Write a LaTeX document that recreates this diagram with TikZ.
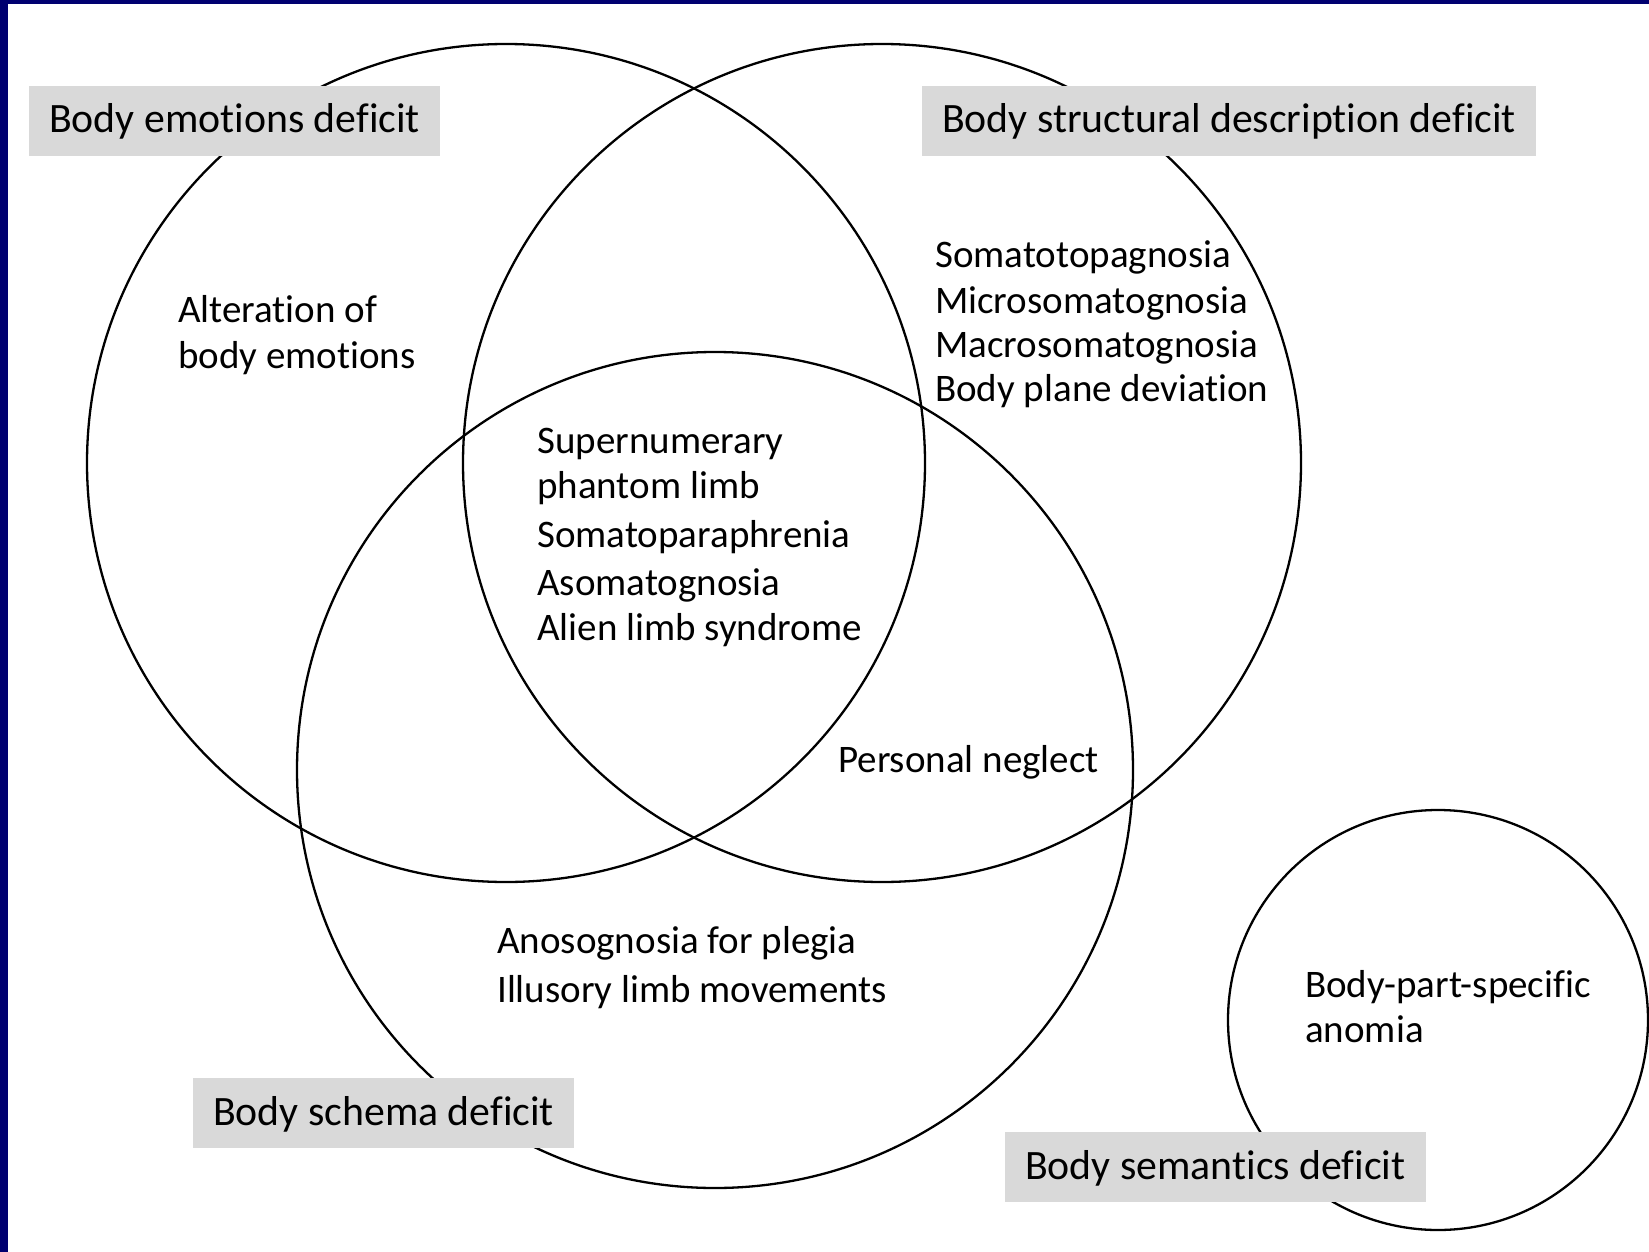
\documentclass[tikz,border=0pt]{standalone}
\usepackage{fontspec}
\setmainfont{Carlito}[Ligatures={NoCommon}]
\definecolor{navyedge}{RGB}{0,0,112}
\definecolor{labelgray}{RGB}{217,217,217}
\begin{document}
\begin{tikzpicture}[x=1pt,y=-1pt,
  ring/.style={circle, draw=black, line width=2.3pt, inner sep=0pt, outer sep=0pt},
  tag/.style={fill=labelgray, anchor=base west, inner xsep=20pt, inner ysep=0pt,
    text height=47pt, text depth=23pt, font=\fontsize{41.8}{49}\selectfont},
  txt/.style={anchor=base west, inner sep=0pt, font=\fontsize{39}{46}\selectfont}]
\useasboundingbox (0,0) rectangle (1649,1252);
\fill[white] (0,0) rectangle (1649,1252);
\fill[navyedge] (0,0) rectangle (8,1252);
\fill[navyedge] (0,0) rectangle (1649,4);
% circles
\node[ring, minimum size=838pt] (emo) at (506,463) {};
\node[ring, minimum size=838pt] (struct) at (882,463) {};
\node[ring, minimum size=836pt] (schema) at (715,770) {};
\node[ring, minimum size=420pt] (sem) at (1438,1020) {};
% labels
\node[tag] (lemo) at (29,133) {Body emotions deficit};
\node[tag] (lstruct) at (922,133) {Body structural description deficit};
\node[tag] (lschema) at (193,1125) {Body schema deficit};
\node[tag] (lsem) at (1005,1179) {Body semantics deficit};
% texts
\node[txt] (t1) at (178,322) {Alteration of};
\node[txt] (t2) at (178,368) {body emotions};
\node[txt] (s1) at (935,267) {Somatotopagnosia};
\node[txt] (s2) at (935,313) {Microsomatognosia};
\node[txt] (s3) at (935,357) {Macrosomatognosia};
\node[txt] (s4) at (935,401) {Body plane deviation};
\node[txt] (c1) at (537,453) {Supernumerary};
\node[txt] (c2) at (537,498) {phantom limb};
\node[txt] (c3) at (537,547) {Somatoparaphrenia};
\node[txt] (c4) at (537,595) {Asomatognosia};
\node[txt] (c5) at (537,640) {Alien limb syndrome};
\node[txt] (pn) at (838,772) {Personal neglect};
\node[txt] (a1) at (497,953) {Anosognosia for plegia};
\node[txt] (a2) at (497,1002) {Illusory limb movements};
\node[txt] (b1) at (1305,997) {Body-part-specific};
\node[txt] (b2) at (1305,1042) {anomia};
\end{tikzpicture}
\end{document}
